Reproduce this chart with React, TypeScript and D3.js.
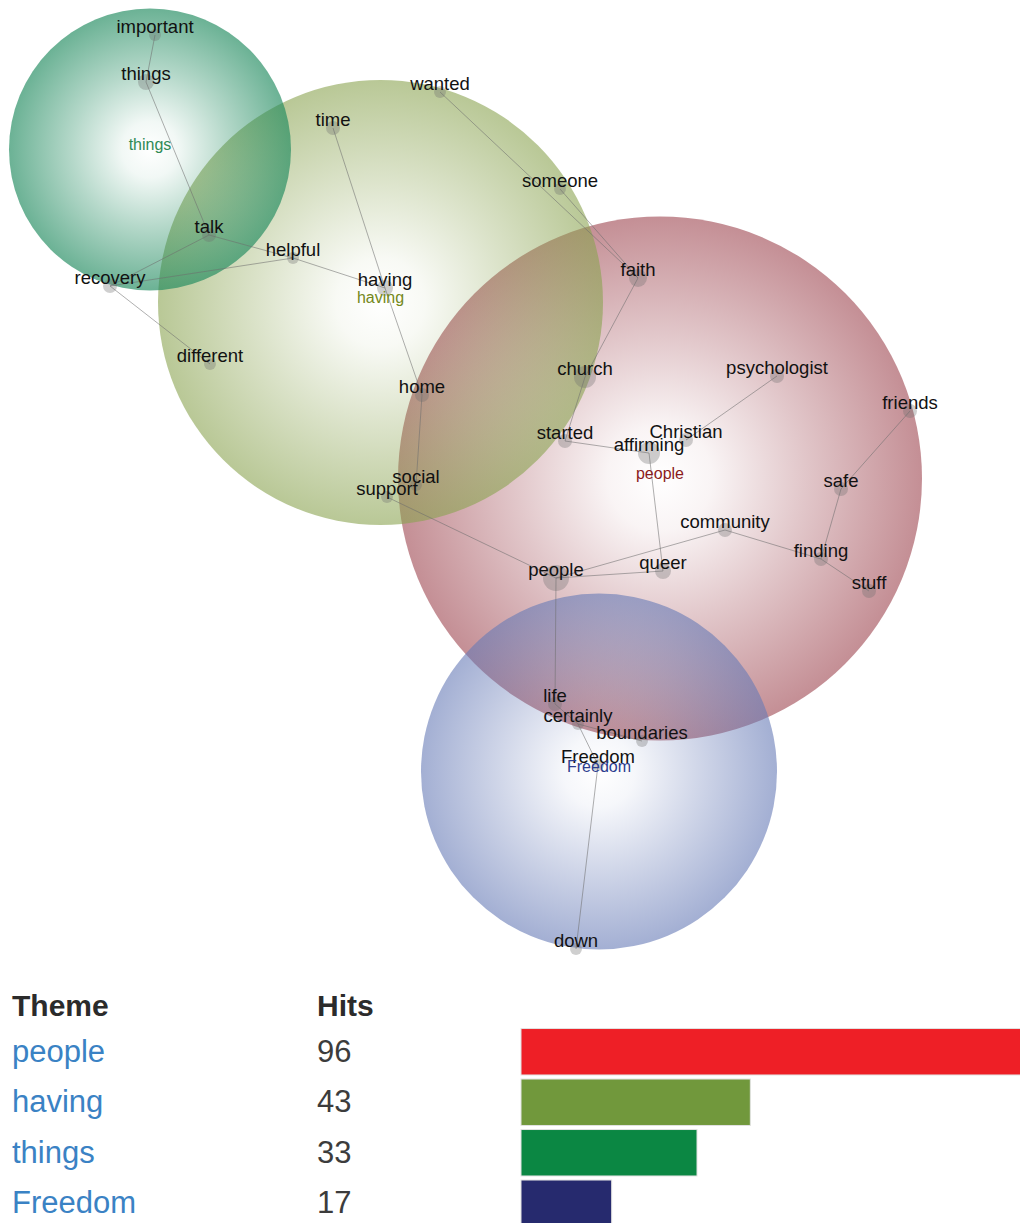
import * as d3 from 'd3';

// concept map (Leximancer style) + theme hits table

const WIDTH = 1020;
const HEIGHT = 1223;

// themes
const themeNames = ['people', 'having', 'things', 'Freedom'];
const themeHits = [96, 43, 33, 17];
// theme circle centres / radii in map units
const themeX = [66.0, 38.05, 15.0, 59.9];
const themeY = [47.85, 30.25, 14.95, 77.15];
const themeR = [26.2, 22.25, 14.1, 17.8];

// concepts in map units
const conceptNames = [
  'important', 'things', 'talk', 'helpful', 'recovery', 'different', 'time', 'wanted',
  'someone', 'having', 'faith', 'church', 'home', 'started', 'affirming', 'Christian',
  'psychologist', 'friends', 'safe', 'social', 'support', 'community', 'finding', 'queer',
  'people', 'stuff', 'life', 'certainly', 'boundaries', 'Freedom', 'down',
];
const conceptX = [
  15.5, 14.6, 20.9, 29.3, 11.0, 21.0, 33.3, 44.0,
  56.0, 38.5, 63.8, 58.5, 42.2, 56.5, 64.9, 68.6,
  77.7, 91.0, 84.1, 41.6, 38.7, 72.5, 82.1, 66.3,
  55.6, 86.9, 55.5, 57.8, 64.2, 59.8, 57.6,
];
const conceptY = [
  3.5, 8.2, 23.5, 25.8, 28.6, 36.4, 12.8, 9.2,
  18.9, 28.8, 27.8, 37.7, 39.5, 44.1, 45.3, 44.0,
  37.6, 41.1, 48.9, 48.5, 49.7, 53.0, 55.9, 57.1,
  57.8, 59.1, 70.4, 72.4, 74.1, 76.5, 94.9,
];
const conceptCount = [
  21, 38, 29, 21, 29, 21, 29, 21,
  21, 38, 48, 72, 29, 29, 72, 29,
  29, 29, 29, 21, 21, 29, 29, 38,
  100, 29, 29, 21, 21, 21, 21,
];

const links = [
  ['important', 'things'], ['things', 'talk'], ['talk', 'recovery'], ['talk', 'helpful'],
  ['recovery', 'helpful'], ['helpful', 'having'], ['recovery', 'different'], ['time', 'having'],
  ['having', 'home'], ['home', 'social'], ['support', 'people'], ['wanted', 'faith'],
  ['someone', 'faith'], ['faith', 'church'], ['church', 'started'], ['started', 'affirming'],
  ['affirming', 'queer'], ['Christian', 'psychologist'], ['queer', 'people'],
  ['people', 'community'], ['community', 'finding'], ['finding', 'safe'], ['safe', 'friends'],
  ['finding', 'stuff'], ['people', 'life'], ['life', 'certainly'], ['certainly', 'boundaries'],
  ['certainly', 'Freedom'], ['Freedom', 'down'],
];

const circleColor = ['#a04a54', '#8aa350', '#1f8a5e', '#667ab6'];
const circleEdge = [0.62, 0.6, 0.66, 0.6];
const themeLabelColor = ['#8b1b1b', '#74881a', '#2f8a55', '#2c3d8f'];
const barColor = ['#ee1f26', '#71983c', '#0b8743', '#262a6e'];
const drawOrder = [0, 1, 2, 3];

const FONT = "'Liberation Sans', Arial, sans-serif";

export default function App() {
  const x = d3.scaleLinear().domain([0, 102]).range([0, WIDTH]);
  const y = d3.scaleLinear().domain([0, 95]).range([0, 950]);
  const k = x(1) - x(0);
  const dotR = d3.scaleSqrt().domain([0, 100]).range([0, 13]);

  const idx = new Map(conceptNames.map((n, i) => [n, i]));

  // table / bars
  const rowY = d3.scaleBand().domain(themeNames).range([1026.5, 1228.5]).paddingInner(0.08).paddingOuter(0.04);
  const barX = d3.scaleLinear().domain([0, 96]).range([521, 1033]);

  return (
    <div style={{ position: 'absolute', left: 0, top: 0 }}>
      <svg width={WIDTH} height={HEIGHT} style={{ display: 'block', fontFamily: FONT }}>
        <defs>
          {themeNames.map((t, i) => (
            <radialGradient key={t} id={`tg${i}`} cx="50%" cy="50%" r="50%">
              <stop offset="0%" stopColor={circleColor[i]} stopOpacity={0} />
              <stop offset="20%" stopColor={circleColor[i]} stopOpacity={0.06} />
              <stop offset="55%" stopColor={circleColor[i]} stopOpacity={circleEdge[i] * 0.5} />
              <stop offset="100%" stopColor={circleColor[i]} stopOpacity={circleEdge[i]} />
            </radialGradient>
          ))}
        </defs>

        {drawOrder.map((i) => (
          <circle key={themeNames[i]} cx={x(themeX[i])} cy={y(themeY[i])} r={themeR[i] * k} fill={`url(#tg${i})`} />
        ))}

        <g stroke="rgba(110,110,110,0.55)" strokeWidth={1} fill="none">
          {links.map(([a, b]) => {
            const i = idx.get(a)!;
            const j = idx.get(b)!;
            return <line key={a + b} x1={x(conceptX[i])} y1={y(conceptY[i])} x2={x(conceptX[j])} y2={y(conceptY[j])} />;
          })}
        </g>

        {conceptNames.map((n, i) => (
          <circle key={n} cx={x(conceptX[i])} cy={y(conceptY[i])} r={dotR(conceptCount[i])} fill="rgba(110,110,110,0.33)" />
        ))}

        {conceptNames.map((n, i) => (
          <text key={n} x={x(conceptX[i])} y={y(conceptY[i]) - 2} textAnchor="middle" fontSize={18.5} fill="#111">
            {n}
          </text>
        ))}

        {themeNames.map((t, i) => (
          <text key={t} x={x(themeX[i])} y={y(themeY[i])} textAnchor="middle" fontSize={16} fill={themeLabelColor[i]}>
            {t}
          </text>
        ))}

        {/* table */}
        <text x={12} y={1016} fontSize={30} fontWeight="bold" fill="#2b2b2b">Theme</text>
        <text x={317} y={1016} fontSize={30} fontWeight="bold" fill="#2b2b2b">Hits</text>
        {themeNames.map((t, i) => {
          const cy = rowY(t)! + rowY.bandwidth() / 2;
          return (
            <g key={t}>
              <text x={12} y={cy + 10} fontSize={31} fill="#3a82c4">{t}</text>
              <text x={317} y={cy + 10} fontSize={31} fill="#3c3c3c">{themeHits[i]}</text>
              <rect
                x={barX(0)}
                y={rowY(t)}
                width={barX(themeHits[i]) - barX(0)}
                height={rowY.bandwidth()}
                fill={barColor[i]}
                stroke="#e2e2e2"
                strokeWidth={1}
              />
            </g>
          );
        })}
      </svg>
    </div>
  );
}
